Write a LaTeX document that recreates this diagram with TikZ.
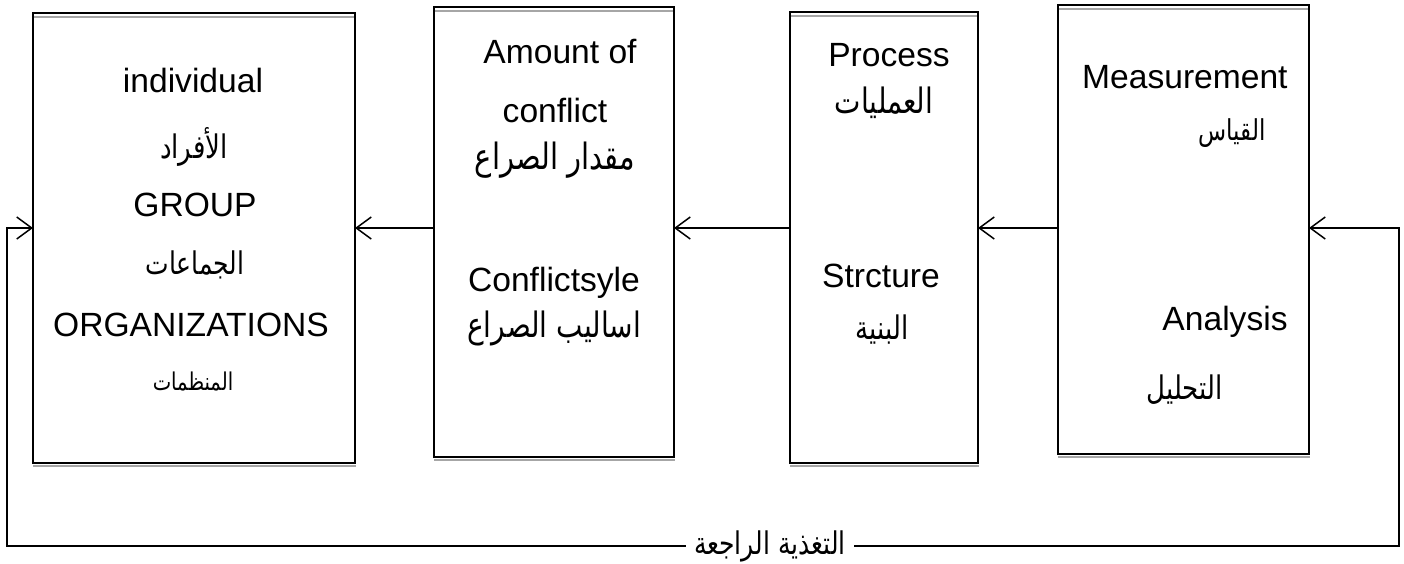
\documentclass[tikz,border=0pt]{standalone}
\usepackage{graphicx}
\usepackage{fontspec}
\setmainfont{Liberation Sans}
\newfontfamily\arabicfont[Script=Arabic]{DejaVu Sans}
\TeXXeTstate=1
\usetikzlibrary{arrows.meta}
\newcommand{\ar}[1]{\scalebox{1}[1.25]{\arabicfont\beginR #1\endR}}
\newcommand{\asz}[1]{\fontsize{#1}{#1}\arabicfont}
\begin{document}
\begin{tikzpicture}[x=0.5pt,y=-0.5pt,
  box/.style={draw,line width=1pt,inner sep=0pt,outer sep=0pt},
  dbl/.style={gray!70,line width=1pt},
  txt/.style={inner sep=0pt,font=\fontsize{16.8}{19}\selectfont},
  atxt/.style={inner sep=0pt,font=\asz{13.5}},
  arr/.style={line width=0.75pt,-{Straight Barb[length=7.5pt,width=11pt,line width=0.75pt]}}]
\useasboundingbox (0,0) rectangle (1404,563);
% boxes
\node[box,minimum width=161pt,minimum height=225pt] (b1) at (194,238) {};
\node[box,minimum width=120pt,minimum height=225pt] (b2) at (554,232) {};
\node[box,minimum width=94pt,minimum height=225.5pt] (b3) at (884,237) {};
\node[box,minimum width=125.5pt,minimum height=224.5pt] (b4) at (1183.5,229.5) {};
% double-line effect
\foreach \b in {b1,b2,b3,b4}{
  \draw[dbl] ([xshift=0.5pt,yshift=-2pt]\b.north west) -- ([xshift=-0.5pt,yshift=-2pt]\b.north east);
  \draw[dbl] ([yshift=-1.6pt]\b.south west) -- ([yshift=-1.6pt,xshift=0.5pt]\b.south east);
}
% box 1 text
\node[txt] (t11) at (193,80) {individual};
\node[atxt,font=\asz{13}] (t12) at (194,147) {\ar{الأفراد}};
\node[txt] (t13) at (195,205) {GROUP};
\node[atxt,font=\asz{12.5}] (t14) at (195,265) {\ar{الجماعات}};
\node[txt] (t15) at (191,325) {ORGANIZATIONS};
\node[atxt,font=\asz{9.8}] (t16) at (193,381) {\ar{المنظمات}};
% box 2 text
\node[txt] (t21) at (560,52) {Amount of};
\node[txt] (t22) at (555,110) {conflict};
\node[atxt,font=\asz{14.5}] (t23) at (555,160) {\ar{مقدار الصراع}};
\node[txt] (t24) at (554,283) {Conflictsyle};
\node[atxt,font=\asz{14}] (t25) at (554,328) {\ar{اساليب الصراع}};
% box 3 text
\node[txt] (t31) at (889,55) {Process};
\node[atxt,font=\asz{14}] (t32) at (884,103) {\ar{العمليات}};
\node[txt] (t33) at (881,276) {Strcture};
\node[atxt,font=\asz{13}] (t34) at (882,330) {\ar{البنية}};
% box 4 text
\node[txt,anchor=east] (t41) at (1288,77) {Measurement};
\node[atxt,anchor=east,font=\asz{11.5}] (t42) at (1266,133) {\ar{القياس}};
\node[txt,anchor=east] (t43) at (1288,322) {Analysis};
\node[atxt,anchor=east,font=\asz{13}] (t44) at (1223,390) {\ar{التحليل}};
% arrows
\coordinate (ay) at (0,228);
\draw[arr] (b2.west |- ay) -- (b1.east |- ay);
\draw[arr] (b3.west |- ay) -- (b2.east |- ay);
\draw[arr] (b4.west |- ay) -- (b3.east |- ay);
% feedback
\node[atxt,font=\asz{12.5},inner xsep=4pt] (fb) at (770,546) {\ar{التغذية الراجعة}};
\coordinate (rc) at (1399,546);
\coordinate (lc) at (7,546);
\draw[arr] (fb.east) -- (rc) |- (b4.east |- ay);
\draw[arr] (fb.west) -- (lc) |- (b1.west |- ay);
\end{tikzpicture}
\end{document}
